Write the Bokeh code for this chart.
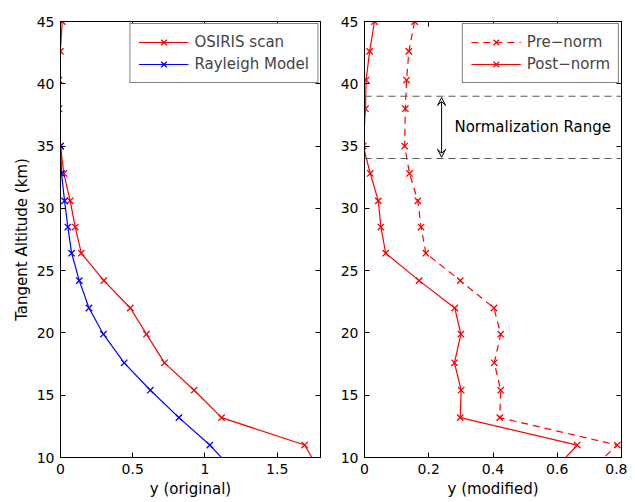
from bokeh.plotting import figure
from bokeh.layouts import row
from bokeh.models import (Range1d, LinearAxis, FixedTicker, Legend, LegendItem,
                          Arrow, VeeHead, Span, Label)
from bokeh.embed import file_html
from bokeh.resources import INLINE

# ---------------- data ----------------
altitude = [45.0, 42.6, 40.3, 38.0, 35.0, 32.8, 30.6, 28.5, 26.4, 24.2,
            22.0, 19.9, 17.6, 15.4, 13.2, 11.0, 8.8]
osiris_scan = [0.012, -0.001, -0.010, -0.010, 0.0, 0.023, 0.067, 0.102, 0.144,
               0.300, 0.483, 0.595, 0.720, 0.925, 1.115, 1.690, 1.800]
rayleigh_altitude = [35.0, 32.8, 30.6, 28.5, 26.4, 24.2, 22.0, 19.9, 17.6,
                     15.4, 13.2, 11.0, 8.8]
rayleigh_model = [0.0, 0.007, 0.028, 0.051, 0.077, 0.130, 0.197, 0.297, 0.441,
                  0.622, 0.820, 1.034, 1.210]
pre_norm = [0.156, 0.138, 0.131, 0.127, 0.125, 0.140, 0.166, 0.176, 0.191,
            0.298, 0.403, 0.424, 0.404, 0.424, 0.421, 0.787, 0.695]
post_norm = [0.031, 0.016, 0.005, 0.003, -0.004, 0.018, 0.043, 0.051, 0.066,
             0.170, 0.281, 0.300, 0.280, 0.301, 0.298, 0.662, 0.583]

norm_range = [34.0, 39.0]
norm_arrow_x = 0.24
norm_label_x = 0.28
norm_label_y = 36.5
norm_label = "Normalization Range"

y_ticks = [10, 15, 20, 25, 30, 35, 40, 45]
x_ticks_left = [0, 0.5, 1, 1.5]
x_tick_labels_left = ["0", "0.5", "1", "1.5"]
x_ticks_right = [0, 0.2, 0.4, 0.6, 0.8]
x_tick_labels_right = ["0", "0.2", "0.4", "0.6", "0.8"]

FONT = "DejaVu Sans"
RED = "#ff0000"
BLUE = "#0000ff"


def style(p, xticks, xlabels, xlabel, ylabel=None):
    p.outline_line_color = "black"
    p.outline_line_width = 1
    p.xgrid.visible = False
    p.ygrid.visible = False
    xa = p.xaxis[0]
    ya = p.yaxis[0]
    xa.ticker = FixedTicker(ticks=xticks)
    xa.major_label_overrides = {t: l for t, l in zip(xticks, xlabels)}
    ya.ticker = FixedTicker(ticks=y_ticks)
    ya.major_label_overrides = {t: str(t) for t in y_ticks}
    xa.axis_label = xlabel
    if ylabel:
        ya.axis_label = ylabel
    for ax in [xa, ya]:
        ax.major_tick_in = 5
        ax.major_tick_out = 0
        ax.minor_tick_in = 0
        ax.minor_tick_out = 0
        ax.axis_line_color = "black"
        ax.major_tick_line_color = "black"
        ax.major_label_text_font = FONT
        ax.major_label_text_font_size = "14px"
        ax.major_label_text_color = "black"
        ax.axis_label_text_font = FONT
        ax.axis_label_text_font_size = "15px"
        ax.axis_label_text_font_style = "normal"
        ax.axis_label_text_color = "black"
    xa.major_label_standoff = 6
    xa.axis_label_standoff = 3
    ya.major_label_standoff = 6
    ya.axis_label_standoff = 3
    for loc, ticks in (("above", xticks), ("right", y_ticks)):
        ax = LinearAxis(ticker=FixedTicker(ticks=ticks), axis_label=None)
        ax.major_tick_in = 5
        ax.major_tick_out = 0
        ax.minor_tick_in = 0
        ax.minor_tick_out = 0
        ax.major_label_text_font_size = "0px"
        ax.major_label_text_color = None
        ax.major_label_text_alpha = 0
        ax.major_label_standoff = 0
        ax.axis_line_color = "black"
        ax.major_tick_line_color = "black"
        p.add_layout(ax, loc)


def style_legend(lg):
    lg.location = "top_right"
    lg.border_line_color = "black"
    lg.border_line_width = 1
    lg.background_fill_color = "white"
    lg.background_fill_alpha = 1
    lg.label_text_font = FONT
    lg.label_text_font_size = "15px"
    lg.glyph_width = 50
    lg.glyph_height = 20
    lg.label_height = 20
    lg.spacing = 2
    lg.padding = 8
    lg.margin = 2
    lg.label_standoff = 6


# ---------------- left panel ----------------
p1 = figure(width=330, height=502, output_backend="svg", toolbar_location=None,
            x_range=Range1d(0, 1.8), y_range=Range1d(10, 45),
            min_border_left=60, min_border_right=10, min_border_top=21,
            min_border_bottom=45)
style(p1, x_ticks_left, x_tick_labels_left, "y (original)", "Tangent Altitude (km)")

l_os = p1.line(osiris_scan, altitude, line_color=RED, line_width=1.2)
s_os = p1.scatter(osiris_scan, altitude, marker="x", size=9, line_color=RED, line_width=1.3)
l_ry = p1.line(rayleigh_model, rayleigh_altitude, line_color=BLUE, line_width=1.2)
s_ry = p1.scatter(rayleigh_model, rayleigh_altitude, marker="x", size=9, line_color=BLUE, line_width=1.3)

lg1 = Legend(items=[LegendItem(label="OSIRIS scan", renderers=[l_os, s_os]),
                    LegendItem(label="Rayleigh Model", renderers=[l_ry, s_ry])])
style_legend(lg1)
p1.add_layout(lg1)

# ---------------- right panel ----------------
p2 = figure(width=297, height=502, output_backend="svg", toolbar_location=None,
            x_range=Range1d(0, 0.8), y_range=Range1d(10, 45),
            min_border_left=34, min_border_right=6, min_border_top=21,
            min_border_bottom=45)
style(p2, x_ticks_right, x_tick_labels_right, "y (modified)")

for loc in norm_range:
    p2.add_layout(Span(location=loc, dimension="width", line_color="#555555",
                       line_width=1, line_dash="7 5"))
p2.add_layout(Arrow(start=VeeHead(size=8, line_color="black", line_width=1, fill_color=None),
                    end=VeeHead(size=8, line_color="black", line_width=1, fill_color=None),
                    x_start=norm_arrow_x, y_start=norm_range[1] - 0.1,
                    x_end=norm_arrow_x, y_end=norm_range[0] + 0.1,
                    line_color="black", line_width=1))
p2.add_layout(Label(x=norm_label_x, y=norm_label_y, text=norm_label,
                    text_baseline="middle", text_font=FONT, text_font_size="15px",
                    text_color="black"))

l_pre = p2.line(pre_norm, altitude, line_color=RED, line_width=1.2, line_dash="7 5")
s_pre = p2.scatter(pre_norm, altitude, marker="x", size=9, line_color=RED, line_width=1.3)
l_post = p2.line(post_norm, altitude, line_color=RED, line_width=1.2)
s_post = p2.scatter(post_norm, altitude, marker="x", size=9, line_color=RED, line_width=1.3)

lg2 = Legend(items=[LegendItem(label="Pre\u2212norm", renderers=[l_pre, s_pre]),
                    LegendItem(label="Post\u2212norm", renderers=[l_post, s_post])])
style_legend(lg2)
p2.add_layout(lg2)

layout = row(p1, p2)
open("out.html", "w").write(file_html(layout, INLINE))
